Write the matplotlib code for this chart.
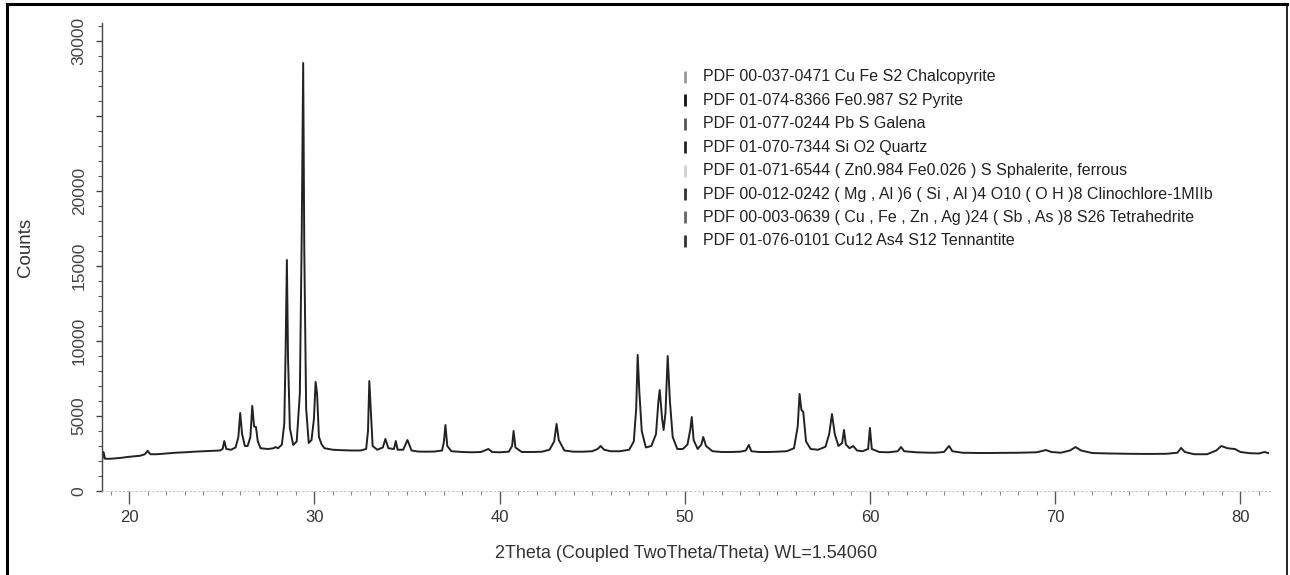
import matplotlib.pyplot as plt
from matplotlib.lines import Line2D
from matplotlib.ticker import MultipleLocator, FuncFormatter

# diffractogram (2theta in degrees, counts)
twotheta = [18.55, 18.62, 18.70, 19.0, 19.5, 20.0, 20.6, 20.85, 21.0, 21.15, 21.5, 22.0, 22.5, 23.0,
            23.5, 24.0, 24.5, 24.9, 25.05, 25.14, 25.25, 25.5, 25.75, 25.9, 26.0, 26.1, 26.25, 26.4,
            26.55, 26.65, 26.75, 26.85, 26.95, 27.1, 27.5, 27.8, 27.9, 28.05, 28.25, 28.38, 28.45,
            28.52, 28.58, 28.68, 28.86, 29.05, 29.22, 29.32, 29.40, 29.46, 29.56, 29.7, 29.85, 29.98,
            30.07, 30.15, 30.25, 30.4, 30.55, 31.0, 31.5, 32.0, 32.5, 32.8, 32.9, 32.97, 33.05, 33.15,
            33.4, 33.7, 33.84, 34.0, 34.3, 34.4, 34.5, 34.8, 35.03, 35.25, 35.6, 36.0, 36.5, 36.9,
            37.0, 37.08, 37.18, 37.4, 38.0, 38.5, 39.0, 39.4, 39.6, 40.0, 40.5, 40.68, 40.76, 40.86,
            41.2, 41.8, 42.3, 42.7, 42.95, 43.08, 43.2, 43.5, 44.0, 44.5, 45.0, 45.3, 45.46, 45.65,
            46.0, 46.5, 47.0, 47.25, 47.38, 47.46, 47.55, 47.68, 47.9, 48.2, 48.45, 48.58, 48.65,
            48.78, 48.86, 48.96, 49.08, 49.2, 49.35, 49.6, 49.9, 50.15, 50.3, 50.38, 50.48, 50.7,
            50.9, 51.0, 51.15, 51.5, 52.0, 52.5, 53.0, 53.3, 53.46, 53.6, 54.0, 54.5, 55.0, 55.5,
            55.9, 56.1, 56.2, 56.3, 56.4, 56.55, 56.8, 57.2, 57.6, 57.8, 57.95, 58.1, 58.3, 58.5,
            58.6, 58.7, 58.9, 59.1, 59.3, 59.6, 59.9, 60.0, 60.1, 60.5, 61.0, 61.5, 61.68, 61.85,
            62.5, 63.0, 63.5, 64.0, 64.27, 64.45, 65.0, 66.0, 67.0, 68.0, 69.0, 69.5, 69.8, 70.3,
            70.8, 71.1, 71.4, 72.0, 73.0, 74.0, 75.0, 76.0, 76.6, 76.8, 77.0, 77.5, 78.2, 78.7,
            78.97, 79.3, 79.7, 80.0, 80.5, 81.0, 81.3, 81.5]
counts = [2100, 2600, 2150, 2150, 2200, 2280, 2350, 2450, 2680, 2450, 2450, 2500, 2550, 2580,
          2620, 2650, 2680, 2700, 2800, 3330, 2800, 2750, 2900, 3600, 5200, 3800, 3000, 3000,
          3600, 5670, 4300, 4270, 3300, 2850, 2800, 2850, 2930, 2850, 3100, 4500, 9270,
          15400, 9000, 4200, 3070, 3300, 6500, 17000, 28530, 16000, 5500, 3200, 3400, 4800,
          7270, 6500, 3600, 3100, 2850, 2750, 2720, 2700, 2700, 2800, 4000, 7330, 5400, 3000,
          2750, 2900, 3470, 2850, 2800, 3330, 2750, 2750, 3400, 2700, 2630, 2620, 2630, 2700,
          3300, 4400, 3000, 2650, 2600, 2580, 2600, 2800, 2600, 2580, 2620, 3000, 4000, 2900,
          2600, 2600, 2620, 2750, 3300, 4470, 3400, 2700, 2620, 2620, 2650, 2800, 3000, 2750,
          2650, 2650, 2750, 3300, 5500, 9070, 6600, 4000, 2900, 3000, 3800, 6000, 6730,
          4800, 4070, 5200, 9000, 6000, 3600, 2800, 2800, 3100, 4100, 4930, 3400, 2800,
          3100, 3600, 3000, 2650, 2600, 2600, 2620, 2700, 3070, 2650, 2600, 2600, 2620, 2650,
          2850, 4300, 6470, 5400, 5270, 3300, 2800, 2750, 2950, 3800, 5130, 3800, 3000, 3200,
          4070, 3100, 2850, 3000, 2700, 2650, 2800, 4200, 2800, 2600, 2580, 2650, 2930, 2650,
          2580, 2560, 2550, 2600, 3000, 2650, 2550, 2530, 2540, 2550, 2580, 2730, 2600, 2550,
          2700, 2930, 2700, 2530, 2500, 2480, 2470, 2480, 2550, 2870, 2600, 2450, 2450, 2700,
          3000, 2850, 2800, 2600, 2520, 2500, 2600, 2530]

fases = ['PDF 00-037-0471 Cu Fe S2 Chalcopyrite',
         'PDF 01-074-8366 Fe0.987 S2 Pyrite',
         'PDF 01-077-0244 Pb S Galena',
         'PDF 01-070-7344 Si O2 Quartz',
         'PDF 01-071-6544 ( Zn0.984 Fe0.026 ) S Sphalerite, ferrous',
         'PDF 00-012-0242 ( Mg , Al )6 ( Si , Al )4 O10 ( O H )8 Clinochlore-1MIIb',
         'PDF 00-003-0639 ( Cu , Fe , Zn , Ag )24 ( Sb , As )8 S26 Tetrahedrite',
         'PDF 01-076-0101 Cu12 As4 S12 Tennantite']
# tons de cinza dos marcadores (a imagem e um scan em preto e branco)
cores = ['#9a9a9a', '#111111', '#555555', '#222222', '#cfcfcf', '#333333', '#666666', '#333333']

# o 25000 nao aparece no original
rotulosOcultos = [25000]

plt.rcParams['font.family'] = ['Liberation Sans', 'DejaVu Sans']

fig = plt.figure(figsize=(12.9, 5.75), dpi=100)
ax = fig.add_axes([0.0791, 0.1461, 0.9054, 0.8139])

ax.plot(twotheta, counts, color='#222222', lw=1.4)

ax.set_xlim(18.54, 81.6)
ax.set_ylim(0, 31200)

ax.xaxis.set_major_locator(MultipleLocator(10))
ax.xaxis.set_minor_locator(MultipleLocator(1))
ax.yaxis.set_major_locator(MultipleLocator(5000))
ax.yaxis.set_minor_locator(MultipleLocator(1000))
ax.yaxis.set_major_formatter(FuncFormatter(lambda v, p: '' if int(round(v)) in rotulosOcultos else f'{int(round(v))}'))

for lado in ['top', 'right']:
    ax.spines[lado].set_visible(False)
ax.spines['left'].set_color('#444444')
ax.spines['left'].set_linewidth(1.0)
ax.spines['bottom'].set_color('#bbbbbb')
ax.spines['bottom'].set_linewidth(0.6)
ax.spines['bottom'].set_linestyle((0, (2, 3)))

ax.tick_params(axis='x', which='major', length=9, width=1, color='#555555', pad=5,
               labelsize=12, labelcolor='#333333')
ax.tick_params(axis='x', which='minor', length=3, width=0.8, color='#888888')
ax.tick_params(axis='y', which='major', length=4, width=1, color='#444444', pad=7,
               labelsize=12.5, labelcolor='#444444', labelrotation=90)
ax.tick_params(axis='y', which='minor', length=3, width=0.8, color='#555555')
for lbl in ax.get_yticklabels():
    lbl.set_va('center')

ax.set_xlabel('2Theta (Coupled TwoTheta/Theta) WL=1.54060', fontsize=13, color='#333333')
ax.set_ylabel('Counts', fontsize=13.5, color='#333333')
ax.xaxis.set_label_coords(0.5, -0.115)
ax.yaxis.set_label_coords(-0.058, 0.52)

# legenda das fases (texto a direita do pico principal)
W, H = 1290.0, 575.0
for i, (nome, cor) in enumerate(zip(fases, cores)):
    ypix = 77 + i * 23.4
    fig.add_artist(Line2D([685 / W], [1 - ypix / H], marker='|', markersize=9,
                          markeredgewidth=2, color=cor, linestyle='none'))
    fig.text(703 / W, 1 - ypix / H, nome, fontsize=11.5, color='#222222', va='center', ha='left')

# moldura do documento escaneado
fig.add_artist(Line2D([7 / W, 7 / W], [0, 1 - 4 / H], color='black', lw=2.2))
fig.add_artist(Line2D([7 / W, 1287 / W], [1 - 4 / H, 1 - 4 / H], color='black', lw=2.2))
fig.add_artist(Line2D([1287 / W, 1287 / W], [0, 1 - 4 / H], color='black', lw=1.2))

fig.savefig('out.png', dpi=100)
